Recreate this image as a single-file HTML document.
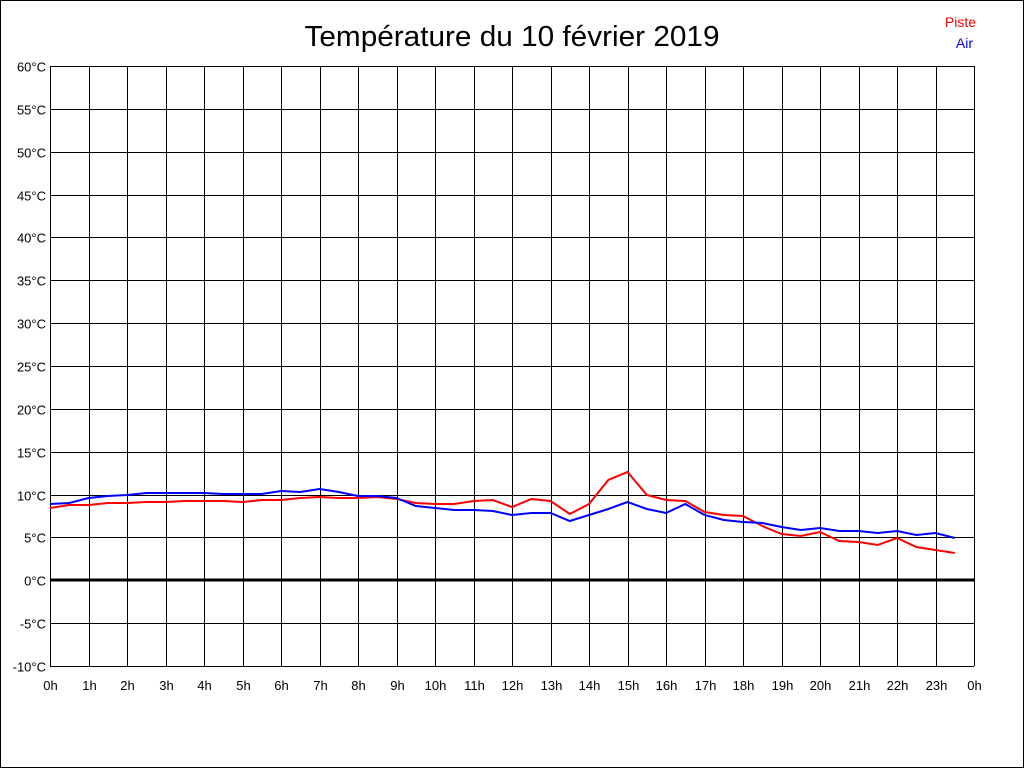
<!DOCTYPE html>
<html><head><meta charset="utf-8"><style>
html,body{margin:0;padding:0;background:#fff;}
svg{display:block;font-family:"Liberation Sans",Arial,sans-serif;}
</style></head><body>
<svg id="s" width="1024" height="768" xmlns="http://www.w3.org/2000/svg">
<rect x="0.5" y="0.5" width="1023" height="767" fill="#fff" stroke="#000"/>
<text x="512" y="46" font-size="29" text-anchor="middle" textLength="415" lengthAdjust="spacingAndGlyphs">Température du 10 février 2019</text>
<text x="976" y="27" font-size="14" fill="#f00" text-anchor="end">Piste</text>
<text x="973" y="48" font-size="14" fill="#00f" text-anchor="end">Air</text>
<g id="g"></g>
</svg>
<script>
var g=document.getElementById('g'),h='';
var x0=50,x1=974,y0=66,y1=666;
for(var i=0;i<=14;i++){var y=Math.round(y0+i*600/14)+0.5;
h+='<line x1="'+x0+'" x2="'+x1+'" y1="'+y+'" y2="'+y+'" stroke="#000" stroke-width="1"/>';
var v=60-5*i;h+='<text x="46" y="'+(y+5)+'" font-size="13" text-anchor="end" fill="#000">'+v+'°C</text>';}
for(var j=0;j<=24;j++){var x=Math.round(x0+j*38.5)+0.5;
h+='<line x1="'+x+'" x2="'+x+'" y1="'+y0+'" y2="'+y1+'" stroke="#000" stroke-width="1"/>';
h+='<text x="'+x+'" y="690" font-size="13" text-anchor="middle">'+(j%24)+'h</text>';}
var yz=Math.round(y0+12*600/14);
h+='<line x1="'+x0+'" x2="'+x1+'" y1="'+yz+'" y2="'+yz+'" stroke="#000" stroke-width="3"/>';
var r=[508,505,505,503,503,502,502,501,501,501,502,500,500,498,497,498,498,497,499,503,504,504,501,500,507,499,501,514,504,480,472,495,500,501,512,515,516,526,534,536,532,541,542,545,538,547,550,553];
var b=[504,503,498,496,495,493,493,493,493,494,494,494,491,492,489,492,496,496,498,506,508,510,510,511,515,513,513,521,515,509,502,509,513,504,515,520,522,523,527,530,528,531,531,533,531,535,533,538];
function pl(a,c){var p=a.map(function(y,i){return (x0+i*19.25).toFixed(1)+','+y}).join(' ');
return '<polyline points="'+p+'" fill="none" stroke="'+c+'" stroke-width="2"/>';}
h+=pl(r,'#f00')+pl(b,'#00f');
g.innerHTML=h;
</script>
</body></html>
